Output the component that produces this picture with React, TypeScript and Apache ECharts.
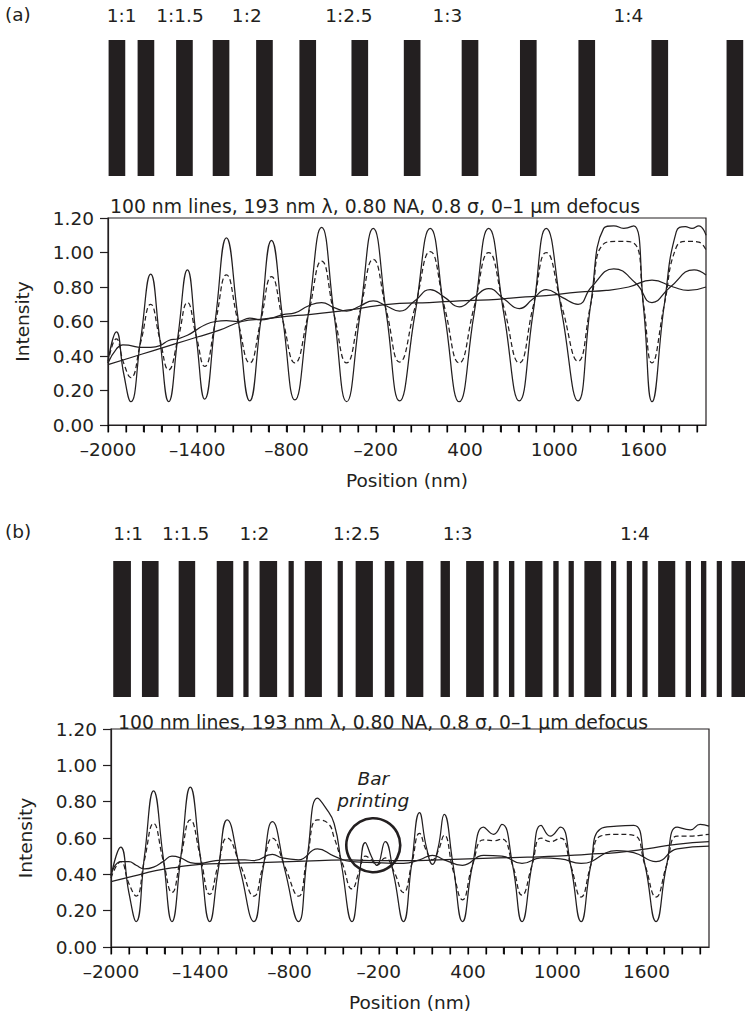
import React, { useEffect, useRef } from "react";
import * as echarts from "echarts";

const INK = "#231f20";
const FONT = "'DejaVu Sans', 'Liberation Sans', Arial, sans-serif";
const FS = 18.5;

// ---------- axis ticks / labels ----------
const xTickValues = [
  -2000, -1880, -1760, -1640, -1520, -1400, -1280, -1160, -1040, -920, -800, -680,
  -560, -440, -320, -200, -80, 40, 160, 280, 400, 520, 640, 760, 880, 1000, 1120,
  1240, 1360, 1480, 1600, 1720, 1840, 1960,
];
const xLabelValues = [-2000, -1400, -800, -200, 400, 1000, 1600];
const xMin = -2000;
const xMax = 2020;
const titleText = "100 nm lines, 193 nm \u03bb, 0.80 NA, 0.8 \u03c3, 0\u20131 \u03bcm defocus";

// ---------- mask patterns (line edges, nm) ----------
const maskALines = [
  [-1996, -1884], [-1801, -1689], [-1542, -1430], [-1296, -1184], [-1004, -892],
  [-713, -601], [-363, -251], [-11, 101], [378, 490], [770, 882], [1163, 1275],
  [1654, 1766], [2159, 2271],
];
const maskAPitchNames = ["1:1", "1:1.5", "1:2", "1:2.5", "1:3", "1:4"];
const maskAPitchPos = [-1908, -1516, -1067, -380, 282, 1499];

const maskBLines = [
  [-1985, -1866], [-1792, -1680], [-1545, -1434], [-1289, -1178], [-1110, -1075],
  [-1001, -883], [-806, -771], [-697, -582], [-476, -441], [-355, -239],
  [-159, -95], [-15, 100], [216, 279], [388, 507], [571, 606], [676, 712],
  [785, 901], [974, 1010], [1077, 1112], [1183, 1297], [1362, 1397], [1468, 1503],
  [1573, 1608], [1679, 1794], [1864, 1900], [1967, 2003], [2073, 2108], [2172, 2275],
];
const maskBPitchNames = ["1:1", "1:1.5", "1:2", "1:2.5", "1:3", "1:4"];
const maskBPitchPos = [-1884, -1498, -1036, -348, 331, 1523];

// ---------- intensity curves, panel (a) ----------
const aFocus = [
  [-2000, 0.37], [-1944, 0.54], [-1895, 0.3], [-1847, 0.135], [-1780, 0.5], [-1713, 0.875],
  [-1652, 0.5], [-1592, 0.135], [-1529, 0.52], [-1466, 0.9], [-1408, 0.52], [-1350, 0.15],
  [-1277, 0.62], [-1204, 1.085], [-1126, 0.62], [-1047, 0.14], [-974, 0.6], [-901, 1.07],
  [-823, 0.6], [-744, 0.145], [-654, 0.64], [-564, 1.145], [-480, 0.64], [-396, 0.135],
  [-306, 0.64], [-217, 1.14], [-128, 0.64], [-40, 0.14], [63, 0.64], [166, 1.14],
  [263, 0.64], [361, 0.135], [460, 0.64], [559, 1.14], [662, 0.64], [765, 0.14],
  [856, 0.64], [946, 1.14], [1053, 0.64], [1160, 0.14], [1245, 0.7], [1332, 1.14],
  [1400, 1.155], [1467, 1.14], [1534, 1.155], [1600, 0.68], [1657, 0.135], [1740, 0.7],
  [1820, 1.12], [1881, 1.15], [1926, 1.14], [1971, 1.155], [2020, 1.1],
];
const aDashed = [
  [-2000, 0.36], [-1944, 0.5], [-1895, 0.36], [-1847, 0.275], [-1780, 0.48], [-1713, 0.7],
  [-1652, 0.5], [-1592, 0.32], [-1529, 0.5], [-1466, 0.71], [-1408, 0.52], [-1350, 0.34],
  [-1277, 0.6], [-1204, 0.87], [-1126, 0.6], [-1047, 0.36], [-974, 0.6], [-901, 0.86],
  [-823, 0.6], [-744, 0.36], [-654, 0.64], [-564, 0.95], [-480, 0.64], [-396, 0.36],
  [-306, 0.66], [-217, 0.96], [-128, 0.66], [-40, 0.365], [63, 0.68], [166, 1.005],
  [263, 0.68], [361, 0.36], [460, 0.68], [559, 1.0], [662, 0.68], [765, 0.36],
  [856, 0.68], [946, 1.0], [1053, 0.68], [1160, 0.37], [1245, 0.7], [1332, 1.05],
  [1433, 1.065], [1534, 1.055], [1600, 0.7], [1657, 0.36], [1740, 0.7], [1820, 1.03],
  [1900, 1.065], [1971, 1.06], [2020, 1.015],
];
const aMid = [
  [-2000, 0.36], [-1944, 0.44], [-1900, 0.465], [-1847, 0.46], [-1780, 0.45], [-1713, 0.45],
  [-1650, 0.46], [-1592, 0.49], [-1529, 0.5], [-1466, 0.52], [-1408, 0.55], [-1350, 0.58],
  [-1277, 0.6], [-1204, 0.605], [-1126, 0.6], [-1047, 0.62], [-974, 0.61], [-901, 0.62],
  [-823, 0.64], [-744, 0.65], [-654, 0.69], [-564, 0.71], [-480, 0.68], [-396, 0.66],
  [-306, 0.69], [-217, 0.72], [-128, 0.69], [-40, 0.66], [63, 0.72], [166, 0.785],
  [263, 0.74], [361, 0.685], [460, 0.74], [559, 0.79], [662, 0.73], [765, 0.675],
  [856, 0.73], [946, 0.785], [1053, 0.74], [1160, 0.7], [1250, 0.8], [1400, 0.905],
  [1550, 0.82], [1657, 0.71], [1780, 0.8], [1940, 0.9], [2020, 0.87],
];
const aDefocus = [
  [-2000, 0.35], [-1850, 0.39], [-1700, 0.43], [-1550, 0.47], [-1400, 0.51], [-1250, 0.55],
  [-1100, 0.6], [-950, 0.615], [-800, 0.63], [-650, 0.64], [-500, 0.655], [-350, 0.67],
  [-200, 0.69], [-40, 0.705], [160, 0.71], [361, 0.72], [560, 0.725], [765, 0.74],
  [946, 0.75], [1160, 0.77], [1350, 0.78], [1500, 0.8], [1657, 0.84], [1800, 0.8],
  [1900, 0.78], [2020, 0.8],
];

// ---------- intensity curves, panel (b) ----------
const bFocus = [
  [-2000, 0.39], [-1935, 0.55], [-1880, 0.3], [-1831, 0.14], [-1775, 0.5], [-1714, 0.86],
  [-1650, 0.5], [-1590, 0.14], [-1530, 0.5], [-1467, 0.88], [-1400, 0.5], [-1336, 0.14],
  [-1280, 0.42], [-1219, 0.7], [-1130, 0.42], [-1039, 0.14], [-980, 0.42], [-915, 0.69],
  [-830, 0.42], [-740, 0.14], [-680, 0.5], [-612, 0.82], [-560, 0.77], [-500, 0.68],
  [-450, 0.45], [-380, 0.14], [-330, 0.4], [-291, 0.575], [-250, 0.5], [-213, 0.45],
  [-157, 0.58], [-100, 0.4], [-34, 0.14], [20, 0.45], [74, 0.74], [120, 0.55],
  [161, 0.455], [200, 0.55], [240, 0.73], [300, 0.45], [363, 0.14], [430, 0.45],
  [505, 0.66], [572, 0.62], [628, 0.675], [700, 0.45], [763, 0.14], [830, 0.45],
  [891, 0.67], [953, 0.61], [1021, 0.66], [1090, 0.45], [1160, 0.14], [1225, 0.45],
  [1290, 0.65], [1400, 0.665], [1514, 0.67], [1590, 0.45], [1664, 0.14], [1735, 0.45],
  [1806, 0.66], [1895, 0.645], [1960, 0.675], [2020, 0.665],
];
const bDashed = [
  [-2000, 0.38], [-1935, 0.47], [-1880, 0.35], [-1831, 0.28], [-1775, 0.48], [-1714, 0.68],
  [-1650, 0.48], [-1590, 0.3], [-1530, 0.5], [-1467, 0.7], [-1400, 0.5], [-1336, 0.29],
  [-1280, 0.45], [-1219, 0.6], [-1130, 0.45], [-1039, 0.28], [-980, 0.44], [-915, 0.6],
  [-830, 0.44], [-740, 0.28], [-680, 0.5], [-612, 0.7], [-540, 0.68], [-499, 0.6],
  [-440, 0.45], [-380, 0.32], [-330, 0.42], [-291, 0.5], [-250, 0.48], [-213, 0.45],
  [-157, 0.49], [-100, 0.42], [-34, 0.3], [20, 0.45], [74, 0.625], [120, 0.53],
  [161, 0.48], [200, 0.53], [240, 0.615], [300, 0.42], [363, 0.26], [430, 0.45],
  [505, 0.59], [572, 0.585], [628, 0.595], [700, 0.45], [763, 0.285], [830, 0.45],
  [891, 0.6], [953, 0.58], [1021, 0.6], [1090, 0.45], [1160, 0.275], [1225, 0.45],
  [1290, 0.61], [1400, 0.62], [1514, 0.615], [1590, 0.45], [1664, 0.275], [1735, 0.45],
  [1806, 0.61], [1895, 0.61], [1960, 0.615], [2020, 0.62],
];
const bMid = [
  [-2000, 0.4], [-1935, 0.47], [-1880, 0.47], [-1831, 0.45], [-1775, 0.43], [-1714, 0.44],
  [-1650, 0.47], [-1590, 0.5], [-1530, 0.49], [-1467, 0.465], [-1400, 0.46], [-1336, 0.47],
  [-1219, 0.48], [-1100, 0.48], [-1039, 0.475], [-915, 0.51], [-850, 0.49], [-740, 0.48],
  [-612, 0.54], [-500, 0.5], [-380, 0.47], [-213, 0.465], [-34, 0.46], [74, 0.48],
  [161, 0.505], [240, 0.48], [363, 0.45], [505, 0.505], [628, 0.5], [763, 0.46],
  [891, 0.49], [1021, 0.485], [1160, 0.46], [1400, 0.53], [1514, 0.52], [1664, 0.47],
  [1806, 0.54], [2020, 0.555],
];
const bDefocus = [
  [-2000, 0.36], [-1850, 0.39], [-1700, 0.42], [-1550, 0.44], [-1400, 0.455], [-1200, 0.46],
  [-1000, 0.465], [-800, 0.47], [-600, 0.475], [-400, 0.48], [-200, 0.475], [0, 0.475],
  [200, 0.48], [400, 0.485], [600, 0.49], [800, 0.495], [1000, 0.5], [1200, 0.51],
  [1400, 0.52], [1600, 0.54], [1800, 0.565], [2020, 0.58],
];

// annotation
const barPrintingPoint = [[-237, 0.56]];
const barPrintingText = "Bar\nprinting";

const fmtX = (v: number) => (v < 0 ? "\u2013" + Math.abs(v) : String(v));

function plotXAxis(gridIndex: number) {
  return {
    type: "value",
    gridIndex,
    position: "bottom",
    min: xMin,
    max: xMax,
    axisLine: { show: true, onZero: false, lineStyle: { color: INK, width: 1.2 } },
    axisTick: { show: true, inside: false, length: 7, customValues: xTickValues, lineStyle: { color: INK, width: 1.3 } },
    axisLabel: { show: true, customValues: xLabelValues, formatter: fmtX, fontSize: FS, color: INK, fontFamily: FONT, margin: 15 },
    splitLine: { show: false },
    name: "Position (nm)",
    nameLocation: "middle",
    nameGap: 46,
    nameTextStyle: { fontSize: FS, color: INK, fontFamily: FONT },
  };
}
function plotYAxis(gridIndex: number) {
  return {
    type: "value",
    gridIndex,
    position: "left",
    min: 0,
    max: 1.2,
    interval: 0.2,
    axisLine: { show: true, onZero: false, lineStyle: { color: INK, width: 1.2 } },
    axisTick: { show: true, inside: false, length: 8, lineStyle: { color: INK, width: 1.2 } },
    axisLabel: { formatter: (v: number) => v.toFixed(2), fontSize: FS, color: INK, fontFamily: FONT, margin: 14 },
    splitLine: { show: false },
    name: "Intensity",
    nameLocation: "middle",
    nameRotate: 90,
    nameGap: 76,
    nameTextStyle: { fontSize: FS, color: INK, fontFamily: FONT },
  };
}

// minor ticks below the x axis, at xTickValues (drawn as thin filled rects)
function xTickSeries(axisIndex: number) {
  return {
    type: "custom",
    xAxisIndex: axisIndex,
    yAxisIndex: axisIndex,
    silent: true,
    clip: false,
    z: 10,
    data: xTickValues.map((v) => [v, 0]),
    renderItem: (params: any, api: any) => {
      const p = api.coord([api.value(0), 0]);
      return {
        type: "rect",
        shape: { x: Math.round(p[0]) - 0.5, y: p[1], width: 1.4, height: 7.5 },
        style: { fill: "#000000" },
        z2: 100,
      };
    },
  };
}
function maskBarsSeries(axisIndex: number, lines: number[][]) {
  return {
    type: "custom",
    xAxisIndex: axisIndex,
    yAxisIndex: axisIndex,
    silent: true,
    data: lines,
    renderItem: (params: any, api: any) => {
      const s = api.coord([api.value(0), 1]);
      const e = api.coord([api.value(1), 0]);
      return {
        type: "rect",
        shape: { x: s[0], y: s[1], width: e[0] - s[0], height: e[1] - s[1] },
        style: { fill: INK },
      };
    },
  };
}
function maskLabelSeries(axisIndex: number, pos: number[], names: string[], offset: number) {
  return {
    type: "custom",
    xAxisIndex: axisIndex,
    yAxisIndex: axisIndex,
    silent: true,
    data: pos.map((p) => [p, 1]),
    renderItem: (params: any, api: any) => {
      const p = api.coord([api.value(0), 1]);
      return {
        type: "text",
        x: p[0],
        y: p[1] - offset,
        style: {
          text: names[params.dataIndex],
          fontSize: FS,
          fontFamily: FONT,
          fill: INK,
          align: "center",
          verticalAlign: "middle",
        },
      };
    },
  };
}
function curve(axisIndex: number, data: number[][], dashed: boolean) {
  return {
    type: "line",
    xAxisIndex: axisIndex,
    yAxisIndex: axisIndex,
    data,
    smooth: 0.5,
    showSymbol: false,
    silent: true,
    lineStyle: { color: INK, width: 1.25, type: dashed ? [5, 3] : "solid" },
  };
}

export default function App() {
  const ref = useRef<HTMLDivElement>(null);
  useEffect(() => {
    if (!ref.current) return;
    const chart = echarts.init(ref.current, undefined, { renderer: "svg" });
    const titleStyle = { fontSize: FS, fontWeight: "normal", color: INK, fontFamily: FONT };
    const plotTitleStyle = { ...titleStyle, fontSize: 18.8 };
    chart.setOption({
      animation: false,
      backgroundColor: "#ffffff",
      title: [
        { text: "(a)", left: 5, top: 5, padding: 0, textStyle: titleStyle },
        { text: titleText, left: 110, top: 197, padding: 0, textStyle: plotTitleStyle },
        { text: "(b)", left: 5, top: 522, padding: 0, textStyle: titleStyle },
        { text: titleText, left: 118, top: 713, padding: 0, textStyle: plotTitleStyle },
      ],
      grid: [
        { left: 108, top: 40, width: 637, height: 136 },
        { left: 108, top: 218, width: 598, height: 207, show: true, borderColor: INK, borderWidth: 1.2, backgroundColor: "transparent" },
        { left: 111, top: 561, width: 634, height: 136 },
        { left: 111, top: 729, width: 598, height: 218, show: true, borderColor: INK, borderWidth: 1.2, backgroundColor: "transparent" },
      ],
      xAxis: [
        { type: "value", gridIndex: 0, min: -2000, max: 2283, show: false },
        plotXAxis(1),
        { type: "value", gridIndex: 2, min: -2000, max: 2263, show: false },
        plotXAxis(3),
      ],
      yAxis: [
        { type: "value", gridIndex: 0, min: 0, max: 1, show: false },
        plotYAxis(1),
        { type: "value", gridIndex: 2, min: 0, max: 1, show: false },
        plotYAxis(3),
      ],
      series: [
        maskBarsSeries(0, maskALines),
        maskLabelSeries(0, maskAPitchPos, maskAPitchNames, 25),
        xTickSeries(1),
        curve(1, aDefocus, false),
        curve(1, aMid, false),
        curve(1, aDashed, true),
        curve(1, aFocus, false),
        maskBarsSeries(2, maskBLines),
        maskLabelSeries(2, maskBPitchPos, maskBPitchNames, 28),
        xTickSeries(3),
        curve(3, bDefocus, false),
        curve(3, bMid, false),
        curve(3, bDashed, true),
        curve(3, bFocus, false),
        {
          type: "scatter",
          xAxisIndex: 3,
          yAxisIndex: 3,
          silent: true,
          data: barPrintingPoint,
          symbol: "circle",
          symbolSize: 54,
          z: 5,
          itemStyle: { color: "rgba(0,0,0,0)", borderColor: INK, borderWidth: 2.6, opacity: 1 },
          label: {
            show: true,
            formatter: barPrintingText,
            position: "top",
            distance: 5,
            fontSize: FS,
            fontStyle: "italic",
            lineHeight: 22,
            color: INK,
            opacity: 1,
            fontFamily: FONT,
          },
        },
      ],
    });
    return () => chart.dispose();
  }, []);
  return (
    <div
      ref={ref}
      style={{ position: "absolute", left: 0, top: 0, width: 745, height: 1017, background: "#fff" }}
    />
  );
}
